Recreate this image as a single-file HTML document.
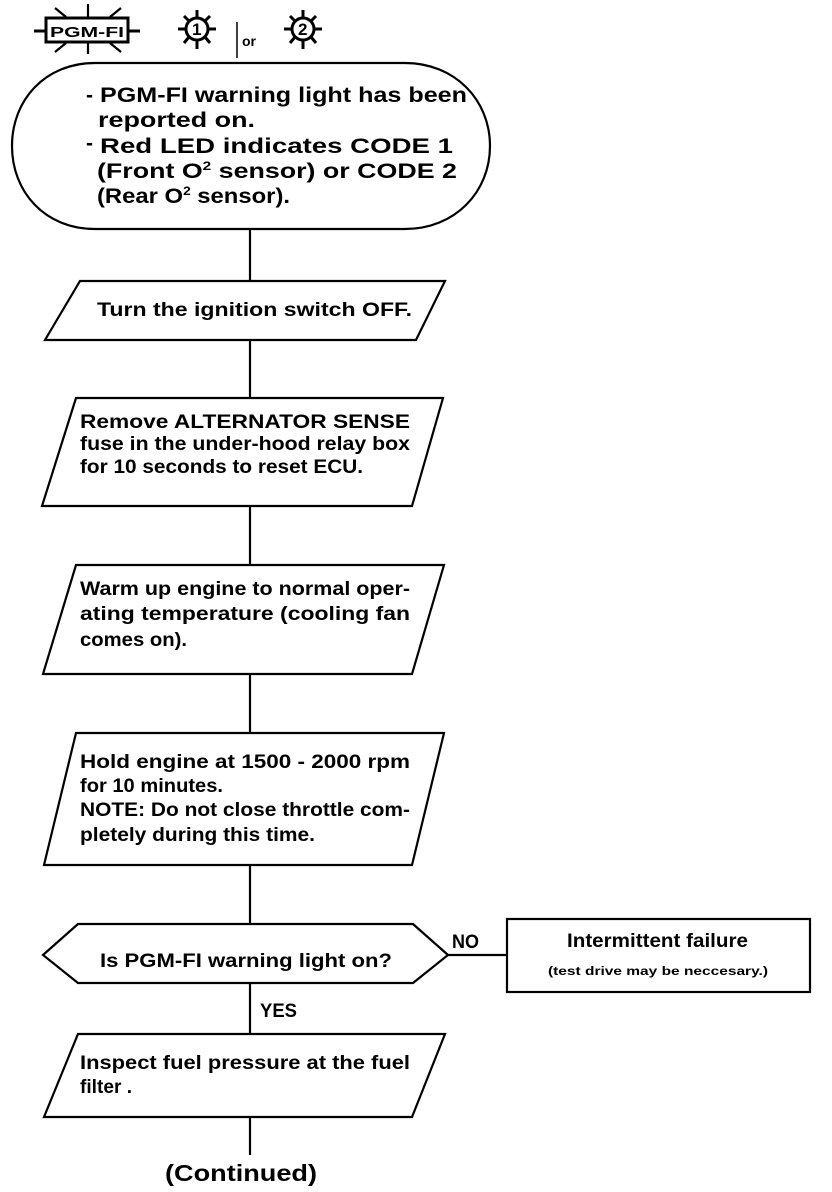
<!DOCTYPE html>
<html><head><meta charset="utf-8"><style>
html,body{margin:0;padding:0;background:#fff}
svg{display:block}
text{font-family:"Liberation Sans",sans-serif;font-weight:bold;fill:#000}
</style></head><body>
<svg width="832" height="1192" viewBox="0 0 832 1192" xmlns="http://www.w3.org/2000/svg">
<g stroke="#000" stroke-width="2.2" fill="none">
<rect x="46" y="18" width="82" height="24" stroke-width="3"/>
<line x1="34" y1="31" x2="46" y2="31" stroke-width="3"/>
<line x1="128" y1="31" x2="140" y2="31" stroke-width="3"/>
<line x1="88" y1="4" x2="88" y2="18"/>
<line x1="88" y1="42" x2="88" y2="54"/>
<line x1="55" y1="8" x2="66" y2="17"/><line x1="121" y1="8" x2="110" y2="17"/>
<line x1="55" y1="52" x2="66" y2="43"/><line x1="121" y1="52" x2="110" y2="43"/>
<g stroke-width="3">
<circle cx="197" cy="29" r="11"/>
<line x1="178" y1="29" x2="186" y2="29"/><line x1="208" y1="29" x2="216" y2="29"/>
<line x1="197" y1="10" x2="197" y2="18"/><line x1="197" y1="40" x2="197" y2="49"/>
<line x1="184" y1="16" x2="189" y2="21"/><line x1="210" y1="16" x2="205" y2="21"/>
<line x1="184" y1="43" x2="189" y2="37"/><line x1="210" y1="43" x2="205" y2="37"/>
<circle cx="303" cy="29" r="11"/>
<line x1="284" y1="29" x2="292" y2="29"/><line x1="314" y1="29" x2="322" y2="29"/>
<line x1="303" y1="10" x2="303" y2="18"/><line x1="303" y1="40" x2="303" y2="49"/>
<line x1="290" y1="16" x2="295" y2="21"/><line x1="316" y1="16" x2="311" y2="21"/>
<line x1="290" y1="43" x2="295" y2="37"/><line x1="316" y1="43" x2="311" y2="37"/>
</g>
<line x1="237" y1="22" x2="237" y2="58" stroke-width="1.5"/>
<path d="M95,63 L405,63 C455,63 490,100 490,146 C490,192 455,229 405,229 L95,229 C45,229 12,192 12,146 C12,100 45,63 95,63 Z"/>
<line x1="250" y1="229" x2="250" y2="282"/>
<line x1="250" y1="340" x2="250" y2="398"/>
<line x1="250" y1="506" x2="250" y2="565"/>
<line x1="250" y1="674" x2="250" y2="733"/>
<line x1="250" y1="865" x2="250" y2="924"/>
<line x1="250" y1="983" x2="250" y2="1033"/>
<line x1="250" y1="1117" x2="250" y2="1155"/>
<polygon points="80,281 445,281 416,340 45,340"/>
<polygon points="76,398 443,398 412,506 42,506"/>
<polygon points="76,565 444,565 412,674 43,674"/>
<polygon points="76,733 444,733 412,865 44,865"/>
<polygon points="78,1034 445,1034 412,1117 44,1117"/>
<polygon points="43,955 78,924 413,924 448,955 413,983 78,983"/>
<line x1="448" y1="955" x2="507" y2="955"/>
<rect x="507" y="919" width="303" height="73"/>
</g>
<text x="50" y="37" font-size="15" textLength="74" lengthAdjust="spacingAndGlyphs">PGM-FI</text>
<text x="192" y="35" font-size="17">1</text>
<text x="298" y="35" font-size="17">2</text>
<text x="242" y="46" font-size="14">or</text>
<g font-size="21">
<text x="86" y="102">-</text><text x="100" y="102" textLength="367" lengthAdjust="spacingAndGlyphs">PGM-FI warning light has been</text>
<text x="98" y="127" textLength="157" lengthAdjust="spacingAndGlyphs">reported on.</text>
<text x="86" y="150">-</text><text x="100" y="153" textLength="353" lengthAdjust="spacingAndGlyphs">Red LED indicates CODE 1</text>
<text x="97" y="178" textLength="360" lengthAdjust="spacingAndGlyphs">(Front O<tspan font-size="12" dy="-8">2</tspan><tspan dy="8"> sensor) or CODE 2</tspan></text>
<text x="97" y="203" textLength="193" lengthAdjust="spacingAndGlyphs">(Rear O<tspan font-size="12" dy="-8">2</tspan><tspan dy="8"> sensor).</text>
</g>
<g font-size="19">
<text x="97" y="316" textLength="315" lengthAdjust="spacingAndGlyphs">Turn the ignition switch OFF.</text>
<text x="80" y="428" textLength="330" lengthAdjust="spacingAndGlyphs">Remove ALTERNATOR SENSE</text>
<text x="80" y="450" textLength="330" lengthAdjust="spacingAndGlyphs">fuse in the under-hood relay box</text>
<text x="80" y="473" textLength="283" lengthAdjust="spacingAndGlyphs">for 10 seconds to reset ECU.</text>
<text x="80" y="595" textLength="330" lengthAdjust="spacingAndGlyphs">Warm up engine to normal oper-</text>
<text x="80" y="620" textLength="330" lengthAdjust="spacingAndGlyphs">ating temperature (cooling fan</text>
<text x="80" y="646" textLength="107" lengthAdjust="spacingAndGlyphs">comes on).</text>
<text x="80" y="768" textLength="330" lengthAdjust="spacingAndGlyphs">Hold engine at 1500 - 2000 rpm</text>
<text x="80" y="792" textLength="143" lengthAdjust="spacingAndGlyphs">for 10 minutes.</text>
<text x="80" y="816" textLength="330" lengthAdjust="spacingAndGlyphs">NOTE: Do not close throttle com-</text>
<text x="80" y="841" textLength="235" lengthAdjust="spacingAndGlyphs">pletely during this time.</text>
<text x="80" y="1069" textLength="330" lengthAdjust="spacingAndGlyphs">Inspect fuel pressure at the fuel</text>
<text x="80" y="1093" textLength="52" lengthAdjust="spacingAndGlyphs">filter .</text>
<text x="100" y="967" textLength="292" lengthAdjust="spacingAndGlyphs">Is PGM-FI warning light on?</text>
<text x="452" y="948" textLength="27" lengthAdjust="spacingAndGlyphs">NO</text>
<text x="260" y="1017" textLength="37" lengthAdjust="spacingAndGlyphs">YES</text>
<text x="567" y="947" textLength="181" lengthAdjust="spacingAndGlyphs">Intermittent failure</text>
</g>
<text x="548" y="975" font-size="12" textLength="220" lengthAdjust="spacingAndGlyphs">(test drive may be neccesary.)</text>
<text x="165" y="1181" font-size="23" textLength="152" lengthAdjust="spacingAndGlyphs">(Continued)</text>
</svg>
</body></html>
